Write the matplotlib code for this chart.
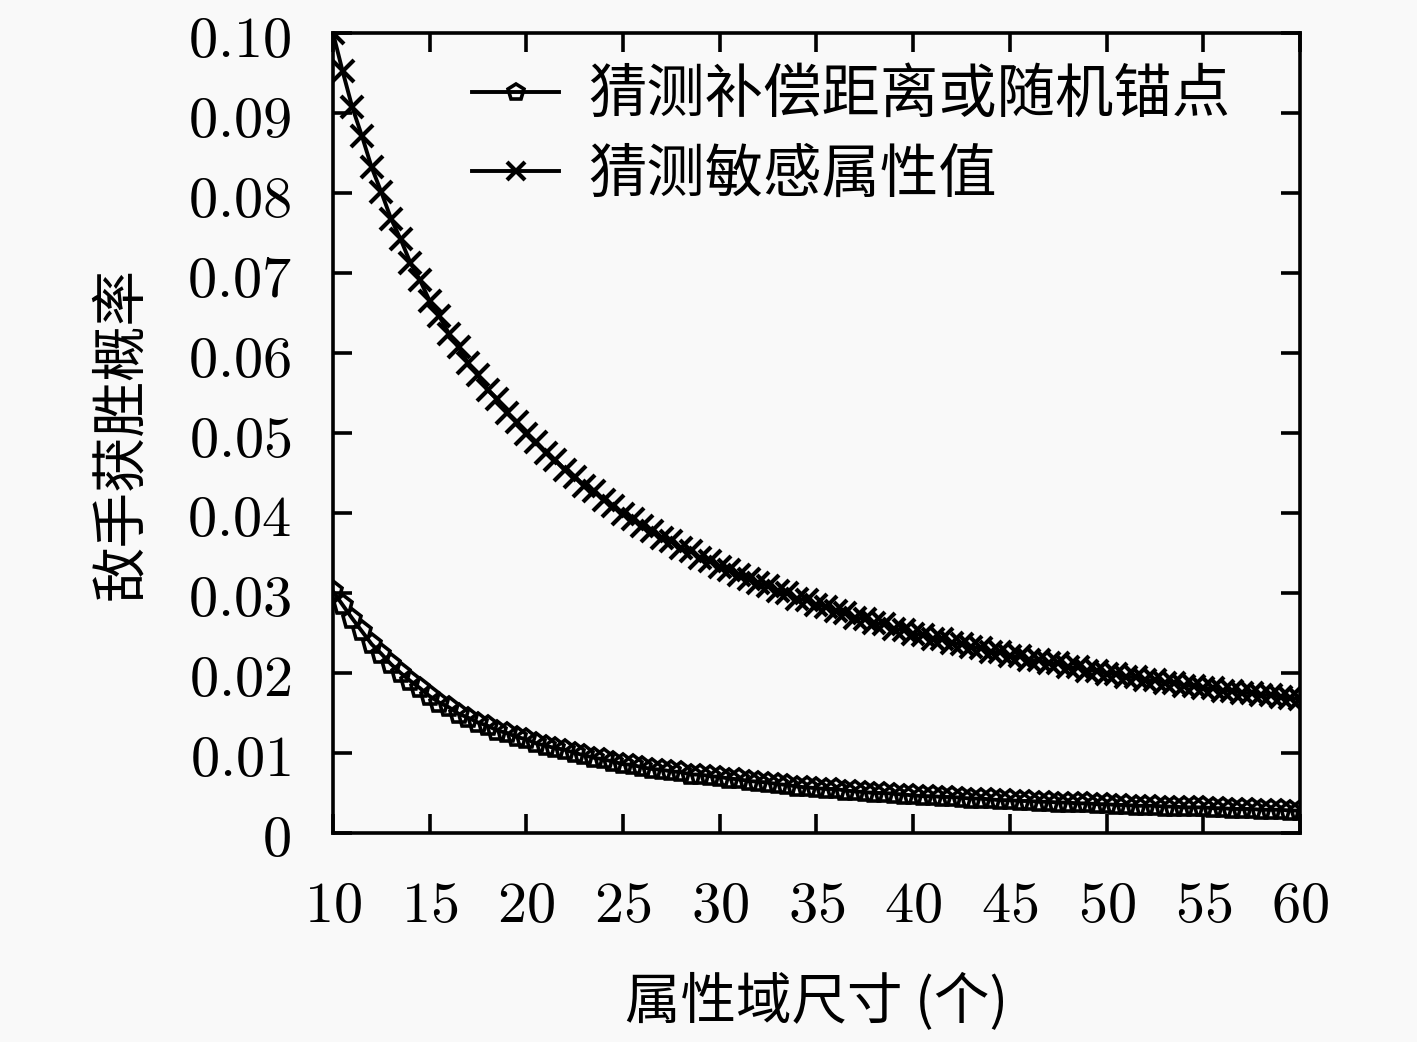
import numpy as np
import matplotlib
matplotlib.use("Agg")
import matplotlib.pyplot as plt

plt.rcParams['font.family'] = ['Noto Sans CJK SC', 'DejaVu Sans']
plt.rcParams['mathtext.fontset'] = 'cm'

# domain size, step 0.5
domain_size = np.arange(10, 60.5, 0.5)

# guess sensitive attribute value
p_sensitive = [
    0.1000, 0.0952, 0.0907, 0.0871, 0.0832, 0.0801, 0.0768, 0.0742, 0.0713, 0.0691,
    0.0665, 0.0646, 0.0624, 0.0607, 0.0587, 0.0572, 0.0554, 0.0542, 0.0525, 0.0514,
    0.0499, 0.0489, 0.0475, 0.0466, 0.0454, 0.0445, 0.0434, 0.0427, 0.0416, 0.0409,
    0.0399, 0.0393, 0.0384, 0.0378, 0.0369, 0.0365, 0.0356, 0.0352, 0.0344, 0.0340,
    0.0332, 0.0329, 0.0322, 0.0318, 0.0312, 0.0309, 0.0302, 0.0300, 0.0293, 0.0291,
    0.0285, 0.0283, 0.0277, 0.0275, 0.0269, 0.0268, 0.0262, 0.0261, 0.0255, 0.0254,
    0.0249, 0.0248, 0.0243, 0.0242, 0.0237, 0.0236, 0.0232, 0.0231, 0.0226, 0.0226,
    0.0221, 0.0221, 0.0216, 0.0216, 0.0212, 0.0212, 0.0207, 0.0207, 0.0203, 0.0203,
    0.0199, 0.0199, 0.0195, 0.0195, 0.0191, 0.0191, 0.0188, 0.0188, 0.0184, 0.0184,
    0.0181, 0.0181, 0.0178, 0.0178, 0.0175, 0.0175, 0.0172, 0.0173, 0.0170, 0.0169,
    0.0167,
]

# guess compensation distance or random anchor
p_anchor = [
    0.0302, 0.0285, 0.0268, 0.0252, 0.0236, 0.0224, 0.0211, 0.0200, 0.0190, 0.0181,
    0.0171, 0.0163, 0.0157, 0.0149, 0.0144, 0.0138, 0.0134, 0.0128, 0.0125, 0.0120,
    0.0117, 0.0112, 0.0109, 0.0106, 0.0104, 0.0100, 0.0097, 0.0094, 0.0092, 0.0089,
    0.0086, 0.0085, 0.0082, 0.0080, 0.0079, 0.0077, 0.0076, 0.0073, 0.0073, 0.0071,
    0.0070, 0.0068, 0.0067, 0.0065, 0.0064, 0.0063, 0.0061, 0.0060, 0.0058, 0.0057,
    0.0056, 0.0055, 0.0055, 0.0053, 0.0052, 0.0051, 0.0050, 0.0050, 0.0049, 0.0048,
    0.0047, 0.0046, 0.0046, 0.0045, 0.0045, 0.0044, 0.0043, 0.0043, 0.0042, 0.0041,
    0.0041, 0.0040, 0.0040, 0.0039, 0.0039, 0.0038, 0.0038, 0.0037, 0.0037, 0.0036,
    0.0036, 0.0035, 0.0035, 0.0034, 0.0034, 0.0034, 0.0033, 0.0033, 0.0032, 0.0032,
    0.0032, 0.0031, 0.0031, 0.0030, 0.0030, 0.0030, 0.0029, 0.0029, 0.0029, 0.0028,
    0.0028,
]

xticks = [10, 15, 20, 25, 30, 35, 40, 45, 50, 55, 60]
yticks = [0, 0.01, 0.02, 0.03, 0.04, 0.05, 0.06, 0.07, 0.08, 0.09, 0.10]
ytick_labels = ['0', '0.01', '0.02', '0.03', '0.04', '0.05', '0.06', '0.07', '0.08', '0.09', '0.10']

fig = plt.figure(figsize=(14.17, 10.42), dpi=100, facecolor='#f9f9f9')
ax = fig.add_axes([0.235, 0.2006, 0.6824, 0.7677])
ax.set_facecolor('#f9f9f9')

ax.plot(domain_size, p_anchor, color='black', lw=2.8, marker='p', ms=14,
        mfc='none', mec='black', mew=2.6, label='猜测补偿距离或随机锚点')
ax.plot(domain_size, p_sensitive, color='black', lw=2.8, marker='x', ms=16,
        mew=3.0, label='猜测敏感属性值')

ax.set_xlim(10, 60)
ax.set_ylim(0, 0.10)
ax.set_xticks(xticks, labels=['$%d$' % t for t in xticks])
ax.set_yticks(yticks, labels=['$%s$' % s for s in ytick_labels])
ax.tick_params(axis='both', which='major', direction='in', length=14, width=2.6,
               top=True, right=True, labelsize=42)
ax.tick_params(axis='y', pad=30)
ax.tick_params(axis='x', pad=30)
for s in ax.spines.values():
    s.set_linewidth(2.6)

ax.set_xlabel('属性域尺寸 (个)', fontsize=40, labelpad=28)
ax.set_ylabel('敌手获胜概率', fontsize=40, labelpad=26)

leg = ax.legend(loc='upper left', bbox_to_anchor=(0.1437, 0.96), frameon=False,
                fontsize=42, handlelength=1.5, handletextpad=0.5,
                labelspacing=0.32, borderpad=0, borderaxespad=0,
                markerscale=0.85)

fig.savefig('out.png', dpi=100, facecolor=fig.get_facecolor())
